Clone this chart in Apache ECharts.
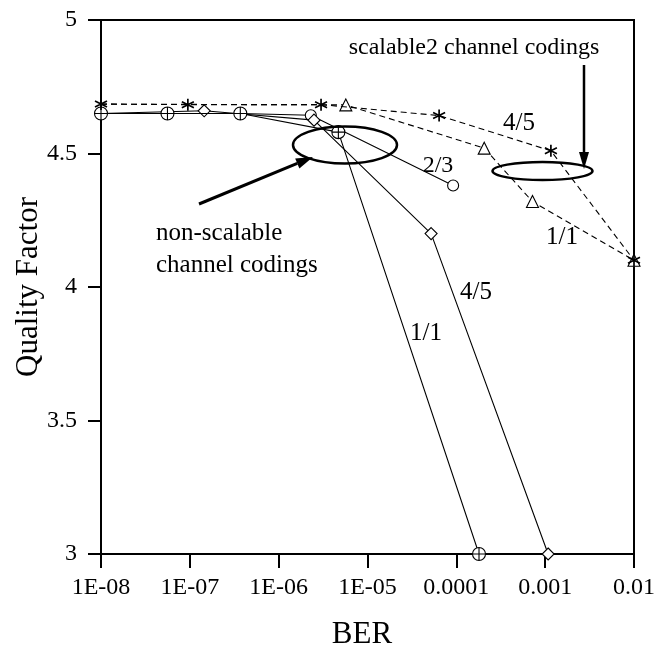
<!DOCTYPE html>
<html>
<head>
<meta charset="utf-8">
<script src="https://cdn.jsdelivr.net/npm/echarts@6/dist/echarts.min.js"></script>
<style>
  html, body { margin: 0; padding: 0; background: #fff; }
  #chart { width: 654px; height: 648px; }
</style>
</head>
<body>
<div id="chart"></div>
<script>
// BER tick labels, one per decade 1E-08 .. 0.01
var berLabels = ['1E-08', '1E-07', '1E-06', '1E-05', '0.0001', '0.001', '0.01'];

// non-scalable channel codings (solid lines)
var ns11 = [[1e-8, 4.65], [5.6e-8, 4.65], [3.7e-7, 4.65], [4.7e-6, 4.58], [1.8e-4, 3.0]];
var ns45 = [[1e-8, 4.65], [1.45e-7, 4.66], [2.5e-6, 4.625], [5.2e-5, 4.2], [1.08e-3, 3.0]];
var ns23 = [[1e-8, 4.65], [5.6e-8, 4.65], [3.7e-7, 4.65], [2.3e-6, 4.643], [9.2e-5, 4.38]];

// scalable2 channel codings (dashed lines)
var sc45 = [[1e-8, 4.685], [9.5e-8, 4.683], [3e-6, 4.683], [6.4e-5, 4.642], [1.16e-3, 4.51], [1e-2, 4.1]];
var sc11 = [[1e-8, 4.685], [5.7e-6, 4.682], [2.06e-4, 4.52], [7.2e-4, 4.32], [1e-2, 4.1]];

var FONT = '"Liberation Serif", "Times New Roman", serif';
var plusCircle = 'path://M0,10A10,10,0,1,1,20,10A10,10,0,1,1,0,10ZM10,0L10,20M0,10L20,10';
var asterisk = 'path://M10,0L10,20M1.3,5L18.7,15M1.3,15L18.7,5';

var myChart = echarts.init(document.getElementById('chart'));

function lineSeries(name, data, symbol, size, dashed, z, bw) {
	return {
		name: name,
		type: 'line',
		data: data,
		symbol: symbol,
		symbolSize: size,
		showAllSymbol: true,
		z: z,
		lineStyle: { color: '#000', width: 1.1, type: dashed ? [6, 4] : 'solid' },
		itemStyle: { color: '#fff', borderColor: '#000', borderWidth: bw || 1.1 }
	};
}

// first point of the triangle line sits under the asterisk, no marker there
var sc11Data = sc11.map(function (p, i) {
	return i === 0 ? { value: p, symbol: 'none' } : p;
});

// arrow head helper for the annotation arrows
function arrowHead(x1, y1, x2, y2, len, half) {
	var dx = x2 - x1, dy = y2 - y1;
	var d = Math.sqrt(dx * dx + dy * dy);
	var ux = dx / d, uy = dy / d;
	var bx = x2 - ux * len, by = y2 - uy * len;
	return {
		base: [bx, by],
		points: [[x2, y2], [bx - uy * half, by + ux * half], [bx + uy * half, by - ux * half]]
	};
}
var head1 = arrowHead(199, 204, 313, 157, 17, 5.5);
var head2 = arrowHead(584, 65, 584, 169, 17, 5);

function txt(s, x, y, size, align) {
	return {
		type: 'text', z: 100,
		style: {
			text: s, x: x, y: y, fill: '#000',
			font: size + 'px ' + FONT,
			align: align || 'center', verticalAlign: 'middle'
		}
	};
}

var option = {
	animation: false,
	backgroundColor: '#fff',
	textStyle: { fontFamily: FONT, color: '#000' },
	grid: {
		left: 101, right: 20, top: 20, bottom: 94,
		outerBoundsMode: 'none',
		show: true, borderColor: '#000', borderWidth: 2
	},
	xAxis: {
		type: 'log',
		logBase: 10,
		min: 1e-8,
		max: 1e-2,
		interval: 1,
		name: 'BER',
		nameLocation: 'middle',
		nameGap: 65,
		nameMoveOverlap: false,
		nameTextStyle: { fontFamily: FONT, fontSize: 31, color: '#000', padding: [0, 11, 0, 0] },
		axisLine: { lineStyle: { color: '#000', width: 2 } },
		axisTick: { length: 14, lineStyle: { color: '#000', width: 2 } },
		minorTick: { show: false },
		splitLine: { show: false },
		axisLabel: {
			margin: 22,
			fontFamily: FONT, fontSize: 24, color: '#000',
			formatter: function (v) {
				return berLabels[Math.round(Math.log10(v)) + 8];
			}
		}
	},
	yAxis: {
		type: 'value',
		min: 3,
		max: 5,
		interval: 0.5,
		name: 'Quality Factor',
		nameLocation: 'middle',
		nameRotate: 90,
		nameGap: 57,
		nameMoveOverlap: false,
		nameTextStyle: { fontFamily: FONT, fontSize: 31, color: '#000' },
		axisLine: { show: true, lineStyle: { color: '#000', width: 2 } },
		axisTick: { show: true, length: 13, lineStyle: { color: '#000', width: 2 } },
		splitLine: { show: false },
		axisLabel: { margin: 24, fontFamily: FONT, fontSize: 24, color: '#000' }
	},
	series: [
		lineSeries('2/3', ns23, 'circle', 11, false, 2),
		lineSeries('4/5', ns45, 'diamond', 12, false, 3),
		lineSeries('1/1', ns11, plusCircle, 13, false, 4),
		lineSeries('scalable2 1/1', sc11Data, 'triangle', 12, true, 5),
		lineSeries('scalable2 4/5', sc45, asterisk, 12, true, 6, 1.7)
	],
	graphic: [
		{ type: 'ellipse', z: 100, shape: { cx: 345, cy: 145, rx: 52, ry: 18.5 },
			style: { fill: null, stroke: '#000', lineWidth: 2.5 } },
		{ type: 'ellipse', z: 100, shape: { cx: 542.5, cy: 171, rx: 50, ry: 9 },
			style: { fill: null, stroke: '#000', lineWidth: 2.5 } },
		{ type: 'line', z: 100, shape: { x1: 199, y1: 204, x2: head1.base[0], y2: head1.base[1] },
			style: { stroke: '#000', lineWidth: 3 } },
		{ type: 'polygon', z: 100, shape: { points: head1.points }, style: { fill: '#000' } },
		{ type: 'line', z: 100, shape: { x1: 584, y1: 65, x2: head2.base[0], y2: head2.base[1] },
			style: { stroke: '#000', lineWidth: 2.5 } },
		{ type: 'polygon', z: 100, shape: { points: head2.points }, style: { fill: '#000' } },
		txt('scalable2 channel codings', 474, 48, 24),
		txt('non-scalable', 156, 233, 25, 'left'),
		txt('channel codings', 156, 265, 25, 'left'),
		txt('2/3', 438, 166, 24),
		txt('4/5', 519, 123, 25),
		txt('1/1', 562, 237, 25),
		txt('4/5', 476, 292, 25),
		txt('1/1', 426, 333, 25)
	]
};

myChart.setOption(option);
</script>
</body>
</html>
